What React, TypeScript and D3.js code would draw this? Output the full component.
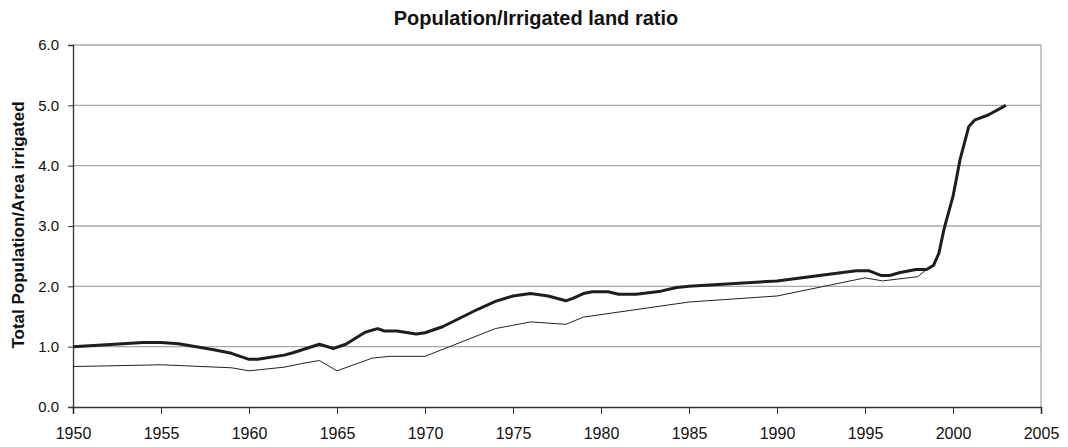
import React, { useEffect, useRef } from "react";
import * as d3 from "d3";

// thick series: population / irrigated area
const totalYears = [1950, 1954, 1955, 1956, 1958, 1959, 1960, 1960.5, 1962, 1962.5, 1964, 1964.8, 1965.5, 1966.6, 1967.3, 1967.7, 1968.4, 1969.5, 1970, 1971, 1973, 1974, 1975, 1976, 1977, 1978, 1978.4, 1979, 1979.5, 1980.4, 1981, 1982, 1983.4, 1984.3, 1985, 1990, 1994.5, 1995.2, 1995.9, 1996.4, 1997, 1997.9, 1998.5, 1998.9, 1999.2, 1999.5, 2000, 2000.4, 2000.9, 2001.25, 2002, 2003];
const totalValues = [1.0, 1.07, 1.07, 1.05, 0.95, 0.89, 0.79, 0.79, 0.86, 0.9, 1.04, 0.97, 1.04, 1.24, 1.3, 1.26, 1.26, 1.21, 1.23, 1.33, 1.62, 1.75, 1.84, 1.88, 1.84, 1.76, 1.8, 1.88, 1.91, 1.91, 1.87, 1.87, 1.92, 1.98, 2.0, 2.09, 2.26, 2.26, 2.18, 2.18, 2.23, 2.28, 2.28, 2.35, 2.55, 2.96, 3.49, 4.1, 4.65, 4.76, 4.84, 5.0];

// thin series
const thinYears = [1950, 1955, 1959, 1960, 1962, 1963, 1964, 1965, 1967, 1968, 1970, 1971.4, 1974, 1976, 1978, 1979, 1985, 1990, 1995, 1996, 1998, 1998.5, 1998.9, 1999.2, 1999.5, 2000, 2000.4, 2000.9, 2001.25, 2002, 2003];
const thinValues = [0.67, 0.7, 0.65, 0.6, 0.66, 0.72, 0.77, 0.6, 0.81, 0.84, 0.84, 1.0, 1.3, 1.41, 1.37, 1.49, 1.74, 1.84, 2.14, 2.09, 2.16, 2.28, 2.35, 2.55, 2.96, 3.49, 4.1, 4.65, 4.76, 4.84, 5.0];

const xTicks = [1950, 1955, 1960, 1965, 1970, 1975, 1980, 1985, 1990, 1995, 2000, 2005];
const yTicks = [0, 1, 2, 3, 4, 5, 6];

const W = 1068;
const H = 447;

export default function App() {
  const ref = useRef<SVGSVGElement>(null);

  useEffect(() => {
    const svg = d3.select(ref.current);
    svg.selectAll("*").remove();

    const left = 73, right = 1041, top = 45, bottom = 407;
    const x = d3.scaleLinear().domain([1950, 2005]).range([left, right]);
    const y = d3.scaleLinear().domain([0, 6]).range([bottom, top]);

    svg.append("rect").attr("width", W).attr("height", H).attr("fill", "#fff");

    // gridlines
    svg
      .append("g")
      .selectAll("line")
      .data(yTicks.filter((d) => d > 0))
      .enter()
      .append("line")
      .attr("x1", left)
      .attr("x2", right)
      .attr("y1", (d) => y(d))
      .attr("y2", (d) => y(d))
      .attr("stroke", "#a8a8a8")
      .attr("stroke-width", 1.3);

    // right border
    svg
      .append("line")
      .attr("x1", right)
      .attr("x2", right)
      .attr("y1", top)
      .attr("y2", bottom)
      .attr("stroke", "#a8a8a8")
      .attr("stroke-width", 1.3);

    const font = "'Liberation Sans', Arial, sans-serif";

    // y axis
    const yAxis = svg
      .append("g")
      .attr("transform", `translate(${left},0)`)
      .call(
        d3
          .axisLeft(y)
          .tickValues(yTicks)
          .tickFormat(d3.format(".1f"))
          .tickSize(5)
          .tickPadding(9)
      );
    yAxis.select(".domain").attr("stroke", "#333").attr("stroke-width", 1.3);
    yAxis.selectAll(".tick line").attr("stroke", "#333");
    yAxis
      .selectAll("text")
      .attr("font-family", font)
      .attr("font-size", 15)
      .attr("fill", "#111");

    // x axis
    const xAxis = svg
      .append("g")
      .attr("transform", `translate(0,${bottom})`)
      .call(
        d3
          .axisBottom(x)
          .tickValues(xTicks)
          .tickFormat(d3.format("d"))
          .tickSize(7)
          .tickPadding(14)
      );
    xAxis.select(".domain").attr("stroke", "#333").attr("stroke-width", 1.6);
    xAxis.selectAll(".tick line").attr("stroke", "#333");
    xAxis
      .selectAll("text")
      .attr("font-family", font)
      .attr("font-size", 16)
      .attr("fill", "#111");

    const line = d3
      .line<[number, number]>()
      .x((d) => x(d[0]))
      .y((d) => y(d[1]));

    const thin = thinYears.map((yr, i) => [yr, thinValues[i]] as [number, number]);
    const total = totalYears.map((yr, i) => [yr, totalValues[i]] as [number, number]);

    svg
      .append("path")
      .datum(thin)
      .attr("d", line)
      .attr("fill", "none")
      .attr("stroke", "#222")
      .attr("stroke-width", 1);

    svg
      .append("path")
      .datum(total)
      .attr("d", line)
      .attr("fill", "none")
      .attr("stroke", "#1e1e1e")
      .attr("stroke-width", 3)
      .attr("stroke-linejoin", "round");

    // title
    svg
      .append("text")
      .attr("x", 536)
      .attr("y", 25)
      .attr("text-anchor", "middle")
      .attr("font-family", font)
      .attr("font-weight", "bold")
      .attr("font-size", 20)
      .attr("fill", "#111")
      .text("Population/Irrigated land ratio");

    // y label
    svg
      .append("text")
      .attr("transform", `translate(24,225) rotate(-90)`)
      .attr("text-anchor", "middle")
      .attr("font-family", font)
      .attr("font-weight", "bold")
      .attr("font-size", 17)
      .attr("fill", "#111")
      .text("Total Population/Area irrigated");
  }, []);

  return (
    <svg
      ref={ref}
      width={W}
      height={H}
      style={{ position: "absolute", left: 0, top: 0 }}
    ></svg>
  );
}
